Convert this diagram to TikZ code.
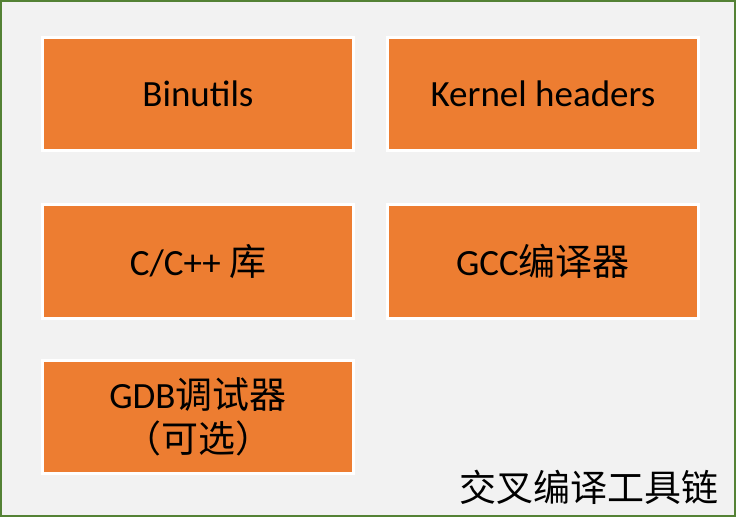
\documentclass[tikz,border=0pt]{standalone}
\usepackage{fontspec}
\setmainfont{Carlito}
\newfontfamily\cjk{Noto Sans CJK SC}
\definecolor{boxorange}{HTML}{ED7D31}
\definecolor{paneback}{HTML}{F2F2F2}
\definecolor{panegreen}{HTML}{548235}
\tikzset{
  part/.style={draw=white, line width=3pt, fill=boxorange, inner sep=0pt,
    minimum width=311pt, minimum height=113.5pt, align=center,
    font=\fontsize{37}{44}\selectfont},
}
\begin{document}
\begin{tikzpicture}[x=1pt,y=-1pt]
  \useasboundingbox (0,0) rectangle (743,528);
  % 背景框
  \draw[panegreen, line width=2pt, fill=paneback] (1,1) rectangle (735,516);

  % 组成部分
  \node[part] (binutils) at (198,94)    {Binutils};
  \node[part] (kernel)   at (543,94)    {Kernel headers};
  \node[part] (libc)     at (198,261.5) {C/C++ {\cjk 库}};
  \node[part] (gcc)      at (543,261.5) {GCC{\cjk 编译器}};
  \node[part] (gdb)      at (198,417)   {GDB{\cjk 调试器}\\{\cjk （可选）}};

  % 标题
  \node[font=\fontsize{37}{44}\selectfont\cjk] (title) at (589,487) {交叉编译工具链};
\end{tikzpicture}
\end{document}
